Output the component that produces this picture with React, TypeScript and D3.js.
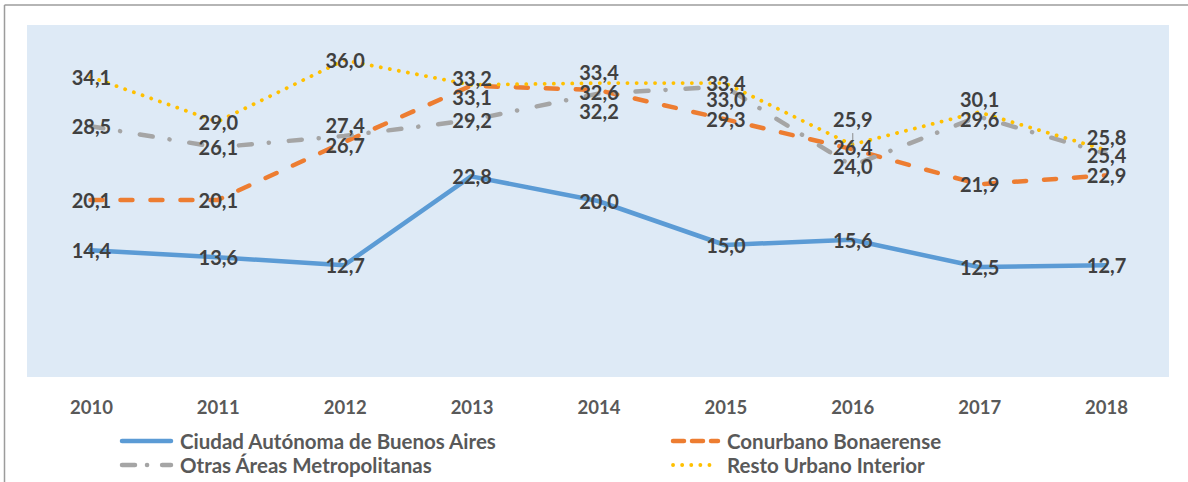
import * as d3 from 'd3';

const years = ['2010', '2011', '2012', '2013', '2014', '2015', '2016', '2017', '2018'];
const caba = [14.4, 13.6, 12.7, 22.8, 20.0, 15.0, 15.6, 12.5, 12.7];
const conurbano = [20.1, 20.1, 26.7, 33.1, 32.6, 29.3, 25.9, 21.9, 22.9];
const otras = [28.5, 26.1, 27.4, 29.2, 32.2, 33.0, 24.0, 29.6, 25.4];
const resto = [34.1, 29.0, 36.0, 33.2, 33.4, 33.4, 26.4, 30.1, 25.8];

const seriesNames = [
  'Ciudad Autónoma de Buenos Aires',
  'Conurbano Bonaerense',
  'Otras Áreas Metropolitanas',
  'Resto Urbano Interior',
];

// label nudges (px) so overlapping labels stay readable, like the original
const labelNudge = {
  caba: [0, 0, 0, 0, 0, 0, 0, 0, 0],
  conurbano: [0, 0, 3, 11, 2, 0, -30, 0, 0],
  otras: [0, 0, -11, 0, 17, 12, 0, 2, 2],
  resto: [0, 0, 0, -7, -11, 0, 2, -13, -13],
};

const W = 1188;
const H = 482;
const plot = { left: 27, right: 1169, top: 25, bottom: 377 };
const labelFont = 'Lato, "Liberation Sans", sans-serif';

const fmt = (v: number) => v.toFixed(1).replace('.', ',');

export default function App() {
  const x = d3.scaleBand().domain(years).range([plot.left, plot.right]);
  const cx = (i: number) => (x(years[i]) as number) + x.bandwidth() / 2;
  const y = d3.scaleLinear().domain([0, 40]).range([plot.bottom, plot.top]);

  const line = d3
    .line<number>()
    .x((_, i) => cx(i))
    .y((d) => y(d));

  const series = [
    { key: 'caba', name: seriesNames[0], values: caba, color: '#5B9BD5', width: 4.5, dash: undefined, legendDash: undefined },
    { key: 'conurbano', name: seriesNames[1], values: conurbano, color: '#ED7D31', width: 4.5, dash: '12 18', legendDash: '11 8' },
    { key: 'otras', name: seriesNames[2], values: otras, color: '#A5A5A5', width: 4.5, dash: '13 17 0.1 20', legendDash: '13 12 0.1 15' },
    { key: 'resto', name: seriesNames[3], values: resto, color: '#FFC000', width: 3.8, dash: '0.1 9.1', legendDash: '0.1 9' },
  ];

  const legend = [
    { s: series[0], lx: 120, lx2: 173, ly: 441 },
    { s: series[1], lx: 671, lx2: 720, ly: 441 },
    { s: series[2], lx: 120, lx2: 173, ly: 465 },
    { s: series[3], lx: 671, lx2: 720, ly: 465 },
  ];

  // leader line for the lifted 2016 Conurbano label
  const leadI = 6;

  return (
    <svg
      width={W}
      height={H}
      style={{ position: 'absolute', left: 0, top: 0, background: '#fff' }}
    >
      <line x1={4.5} x2={W} y1={5} y2={5} stroke="#9c9c9c" strokeWidth={1.5} />
      <line x1={4.5} x2={4.5} y1={5} y2={H} stroke="#9c9c9c" strokeWidth={1.5} />

      <rect
        x={plot.left}
        y={plot.top}
        width={plot.right - plot.left}
        height={plot.bottom - plot.top}
        fill="#DEEAF6"
      />

      {series.map((s) => (
        <path
          key={s.key}
          d={line(s.values) || ''}
          fill="none"
          stroke={s.color}
          strokeWidth={s.width}
          strokeDasharray={s.dash}
          strokeLinecap="round"
          strokeLinejoin="round"
        />
      ))}

      <line
        x1={cx(leadI) + 1}
        x2={cx(leadI) + 1}
        y1={y(conurbano[leadI]) - 16}
        y2={y(conurbano[leadI]) + 1}
        stroke="#8c8c8c"
        strokeWidth={1}
      />

      {series.map((s) =>
        s.values.map((v, i) => (
          <text
            key={s.key + i}
            x={cx(i) + 1}
            y={y(v) + (labelNudge as any)[s.key][i]}
            textAnchor="middle"
            dominantBaseline="central"
            fontFamily={labelFont}
            fontWeight="bold"
            fontSize={20}
            fill="#404040"
          >
            {fmt(v)}
          </text>
        ))
      )}

      {years.map((yr, i) => (
        <text
          key={yr}
          x={cx(i) + 1}
          y={407}
          textAnchor="middle"
          dominantBaseline="central"
          fontFamily={labelFont}
          fontWeight="bold"
          fontSize={18.5}
          fill="#595959"
        >
          {yr}
        </text>
      ))}

      {legend.map(({ s, lx, lx2, ly }) => (
        <g key={s.key}>
          <line
            x1={lx + 2}
            x2={lx2 - 2}
            y1={ly}
            y2={ly}
            stroke={s.color}
            strokeWidth={s.width}
            strokeDasharray={s.legendDash}
            strokeLinecap="round"
          />
          <text
            x={lx2 + 7}
            y={ly}
            dominantBaseline="central"
            fontFamily={labelFont}
            fontWeight="bold"
            fontSize={20.5}
            fill="#595959"
          >
            {s.name}
          </text>
        </g>
      ))}
    </svg>
  );
}
